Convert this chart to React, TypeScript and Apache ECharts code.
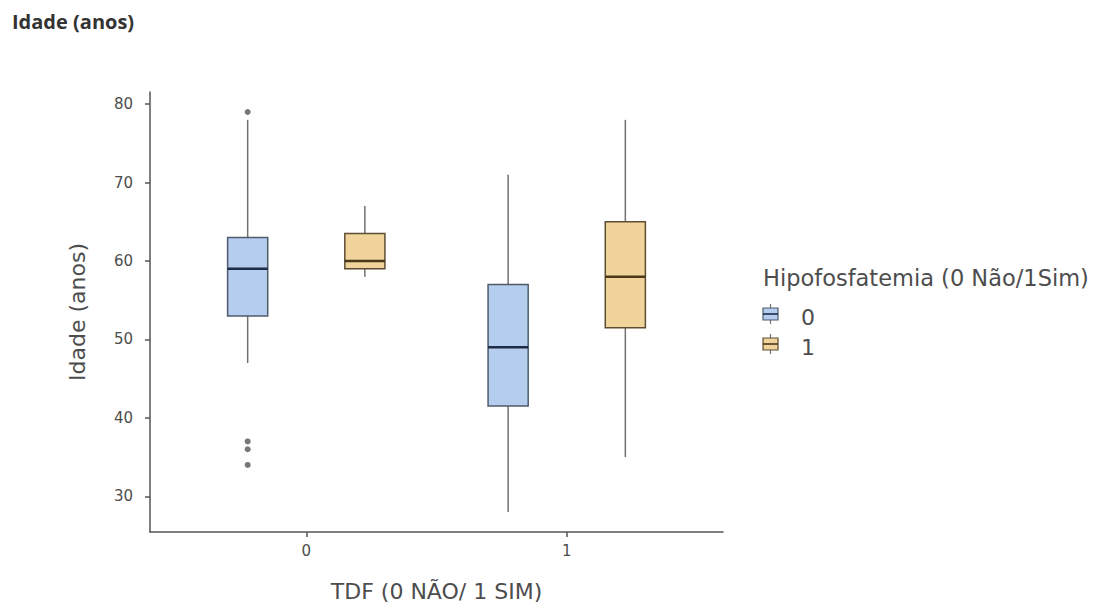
import React, { useEffect, useRef } from "react";
import * as echarts from "echarts";

// ---- Data ----
const tdfCategories = ["0", "1"]; // TDF (0 NÃO / 1 SIM)
const hipoGroups = ["0", "1"]; // Hipofosfatemia (0 Não / 1 Sim)
// [min, q1, median, q3, max] per TDF category
const hipo0Stats = [
  [47, 53, 59, 63, 78],
  [28, 41.5, 49, 57, 71],
];
const hipo1Stats = [
  [58, 59, 60, 63.5, 67],
  [35, 51.5, 58, 65, 78],
];
// [tdf category index, value]
const hipo0Outliers = [
  [0, 79],
  [0, 37],
  [0, 36],
  [0, 34],
];
const hipo1Outliers: number[][] = [];
const yTicks = [30, 40, 50, 60, 70, 80];
const xTicks = [0, 1];

// ---- Style / layout ----
const DODGE = 0.225;
const BOX_W = 0.154;
const FONT = "DejaVu Sans";
const TEXT = "#4d4d4d";
const AXIS = "#555555";
const WHISKER = "#707070";
const groupStyle = [
  { fill: "#B5CDEE", border: "#4F5B6B", median: "#1F2B44" },
  { fill: "#F0D49C", border: "#5E4D33", median: "#4A3818" },
];

function boxSeries(name: string, stats: number[][], gi: number) {
  const st = groupStyle[gi];
  const off = gi === 0 ? -DODGE : DODGE;
  return {
    type: "custom",
    name,
    data: stats.map((s, i) => [i, ...s]),
    encode: { x: 0, y: [1, 2, 3, 4, 5] },
    z: 2,
    renderItem: (params: any, api: any) => {
      const xc = api.value(0) + off;
      const lo = api.value(1);
      const q1 = api.value(2);
      const med = api.value(3);
      const q3 = api.value(4);
      const hi = api.value(5);
      const pHi = api.coord([xc, hi]);
      const pQ3 = api.coord([xc, q3]);
      const pQ1 = api.coord([xc, q1]);
      const pLo = api.coord([xc, lo]);
      const tl = api.coord([xc - BOX_W / 2, q3]);
      const br = api.coord([xc + BOX_W / 2, q1]);
      const pm = api.coord([xc, med]);
      return {
        type: "group",
        children: [
          {
            type: "line",
            shape: { x1: pHi[0], y1: pHi[1], x2: pQ3[0], y2: pQ3[1] },
            style: { stroke: WHISKER, lineWidth: 1.5 },
          },
          {
            type: "line",
            shape: { x1: pQ1[0], y1: pQ1[1], x2: pLo[0], y2: pLo[1] },
            style: { stroke: WHISKER, lineWidth: 1.5 },
          },
          {
            type: "rect",
            shape: { x: tl[0], y: tl[1], width: br[0] - tl[0], height: br[1] - tl[1] },
            style: { fill: st.fill, stroke: st.border, lineWidth: 1.5 },
          },
          {
            type: "line",
            shape: { x1: tl[0], y1: pm[1], x2: br[0], y2: pm[1] },
            style: { stroke: st.median, lineWidth: 2.5 },
          },
        ],
      };
    },
  };
}

function outlierSeries(name: string, pts: number[][], gi: number) {
  const off = gi === 0 ? -DODGE : DODGE;
  return {
    type: "scatter",
    name: name + "-outliers",
    data: pts.map((p) => [p[0] + off, p[1]]),
    symbolSize: 6,
    itemStyle: { color: "#555555" },
    z: 3,
  };
}

function legendGraphic() {
  const items: any[] = [
    {
      type: "text",
      x: 763,
      y: 278,
      style: {
        text: "Hipofosfatemia (0 Não/1Sim)",
        font: `22.5px "${FONT}"`,
        fill: TEXT,
        verticalAlign: "middle",
        align: "left",
      },
    },
  ];
  hipoGroups.forEach((g, i) => {
    const cy = 314 + i * 30;
    const st = groupStyle[i];
    items.push(
      {
        type: "line",
        shape: { x1: 770.5, y1: cy - 10, x2: 770.5, y2: cy + 10 },
        style: { stroke: WHISKER, lineWidth: 1.2 },
      },
      {
        type: "rect",
        shape: { x: 763, y: cy - 6, width: 15, height: 12 },
        style: { fill: st.fill, stroke: st.border, lineWidth: 1.2 },
      },
      {
        type: "line",
        shape: { x1: 763, y1: cy, x2: 778, y2: cy },
        style: { stroke: st.median, lineWidth: 1.6 },
      },
      {
        type: "text",
        x: 801,
        y: cy + 3,
        style: {
          text: g,
          font: `22px "${FONT}"`,
          fill: TEXT,
          verticalAlign: "middle",
          align: "left",
        },
      }
    );
  });
  return items;
}

export default function App() {
  const ref = useRef<HTMLDivElement>(null);
  useEffect(() => {
    if (!ref.current) return;
    const chart = echarts.init(ref.current, undefined, { renderer: "svg" });
    chart.setOption({
      animation: false,
      backgroundColor: "#ffffff",
      title: {
        text: "Idade (anos)",
        left: 7,
        top: 6,
        textStyle: {
          fontFamily: "Open Sans",
          fontWeight: "bold",
          fontSize: 20,
          color: "#333333",
        },
      },
      grid: { left: 150, right: 372, top: 92, bottom: 76, containLabel: false },
      xAxis: {
        type: "value",
        min: -0.6,
        max: 1.6,
        name: "TDF (0 NÃO/ 1 SIM)",
        nameLocation: "middle",
        nameGap: 48,
        nameTextStyle: { fontFamily: FONT, fontSize: 22, color: TEXT },
        splitLine: { show: false },
        axisLine: { show: true, onZero: false, lineStyle: { color: AXIS, width: 1.5 } },
        axisTick: {
          show: true,
          customValues: xTicks,
          length: 5,
          lineStyle: { color: AXIS, width: 1.5 },
        },
        axisLabel: {
          customValues: xTicks,
          formatter: (v: number) => tdfCategories[Math.round(v)] ?? "",
          fontFamily: FONT,
          fontSize: 15,
          color: TEXT,
          margin: 11,
        },
      },
      yAxis: {
        type: "value",
        min: 25.45,
        max: 81.55,
        name: "Idade (anos)",
        nameLocation: "middle",
        nameGap: 62,
        nameTextStyle: { fontFamily: FONT, fontSize: 22, color: TEXT },
        splitLine: { show: false },
        axisLine: { show: true, onZero: false, lineStyle: { color: AXIS, width: 1.5 } },
        axisTick: {
          show: true,
          customValues: yTicks,
          length: 5,
          lineStyle: { color: AXIS, width: 1.5 },
        },
        axisLabel: {
          customValues: yTicks,
          fontFamily: FONT,
          fontSize: 15,
          color: TEXT,
          margin: 17,
        },
      },
      series: [
        boxSeries(hipoGroups[0], hipo0Stats, 0),
        boxSeries(hipoGroups[1], hipo1Stats, 1),
        outlierSeries(hipoGroups[0], hipo0Outliers, 0),
        outlierSeries(hipoGroups[1], hipo1Outliers, 1),
      ],
      graphic: legendGraphic(),
    });
    return () => chart.dispose();
  }, []);
  return (
    <div
      ref={ref}
      style={{ position: "fixed", left: 0, top: 0, width: 1095, height: 608, background: "#fff" }}
    />
  );
}
